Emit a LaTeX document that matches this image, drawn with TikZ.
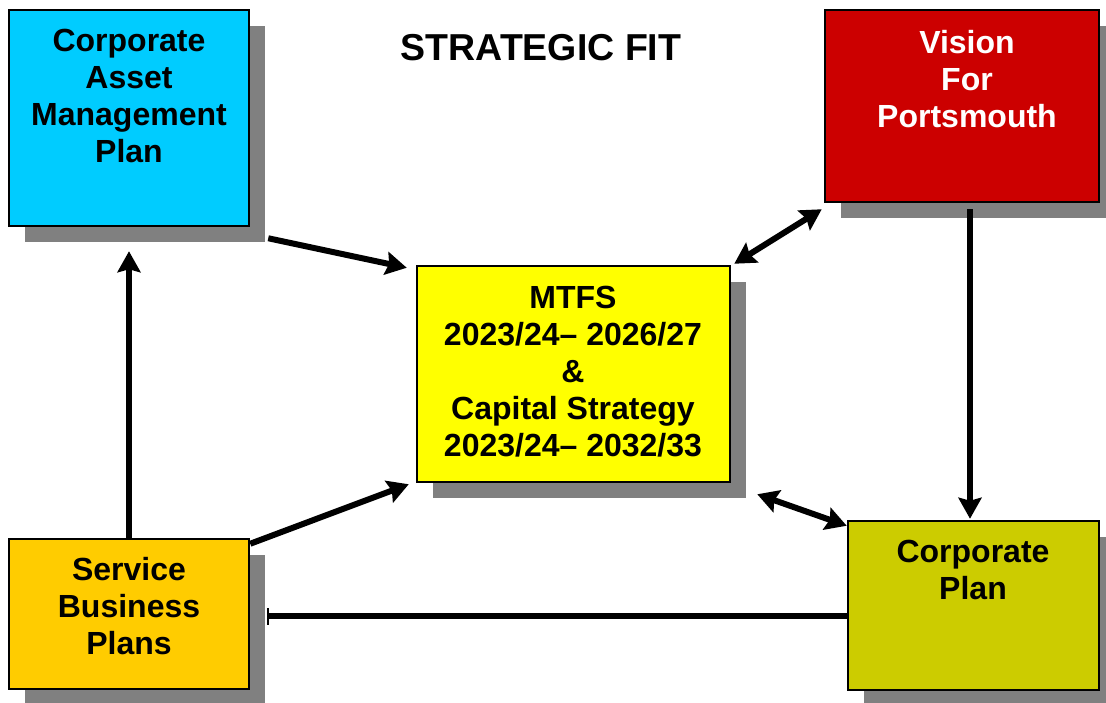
\documentclass[tikz,border=0pt]{standalone}
\usepackage{fontspec}
\setmainfont{Liberation Sans}
\usetikzlibrary{arrows.meta,calc}

\definecolor{campcyan}{HTML}{00CCFF}
\definecolor{visionred}{HTML}{CC0000}
\definecolor{mtfsyellow}{HTML}{FFFF00}
\definecolor{cpolive}{HTML}{CCCC00}
\definecolor{sbporange}{HTML}{FFCC00}
\definecolor{shadowgray}{HTML}{808080}

\begin{document}
\begin{tikzpicture}[x=1pt,y=-1pt,
    box/.style={draw=black,line width=2.5pt,inner sep=0pt,
        preaction={fill=shadowgray,transform canvas={xshift=16pt,yshift=-16pt}}},
    lbl/.style={anchor=north,align=center,inner sep=0pt,
        font=\fontsize{32}{37}\selectfont\bfseries},
    link/.style={line width=6pt,-{Stealth[length=21pt,width=23pt,inset=3pt]}},
    both/.style={line width=6pt,{Stealth[length=21pt,width=23pt,inset=3pt]}-{Stealth[length=21pt,width=23pt,inset=3pt]}}]
    \useasboundingbox[fill=white] (0,0) rectangle (1106,702);

    % boxes
    \node[box,fill=campcyan,minimum width=240pt,minimum height=216pt] (camp) at (129,118) {};
    \node[box,fill=visionred,minimum width=274pt,minimum height=192pt] (vision) at (962,106) {};
    \node[box,fill=mtfsyellow,minimum width=313pt,minimum height=216pt] (mtfs) at (573.5,374) {};
    \node[box,fill=cpolive,minimum width=251pt,minimum height=169pt] (cp) at (973.5,605.5) {};
    \node[box,fill=sbporange,minimum width=240pt,minimum height=150pt] (sbp) at (129,614) {};

    % texts
    \node[lbl,font=\fontsize{37.5}{42}\selectfont\bfseries] (title) at (541,34) {STRATEGIC FIT};
    \node[lbl] (camptext) at (129,29) {Corporate\\Asset\\Management\\Plan};
    \node[lbl,text=white] (visiontext) at (967,30) {Vision\\For\\Portsmouth};
    \node[lbl] (mtfstext) at (573,286) {MTFS\\2023/24-- 2026/27\\\&\\Capital Strategy\\2023/24-- 2032/33};
    \node[lbl] (cptext) at (973,540) {Corporate\\Plan};
    \node[lbl] (sbptext) at (129,557) {Service\\Business\\Plans};

    % connectors
    \draw[link] ($(camp.south east)+(18,11)$) -- ($(mtfs.north west)+(-9,3)$);
    \draw[both] ($(mtfs.north east)+(3,-1)$) -- ($(vision.south west)+(-2,6)$);
    \draw[link] ($(vision.south)+(8,6)$) -- ($(cp.north)+(-3.5,-1)$);
    \draw[link] (sbp.north) -- ($(camp.south)+(0,24)$);
    \draw[link] ($(sbp.north east)+(0,6)$) -- ($(mtfs.south west)+(-7,1)$);
    \draw[both] ($(mtfs.south east)+(26,11)$) -- ($(cp.north west)+(0,6)$);
    \draw[line width=6pt,-{Bar[width=17pt,line width=2pt]}] ($(cp.west)+(0,10.5)$) -- ($(sbp.east)+(17,2)$);
\end{tikzpicture}
\end{document}
